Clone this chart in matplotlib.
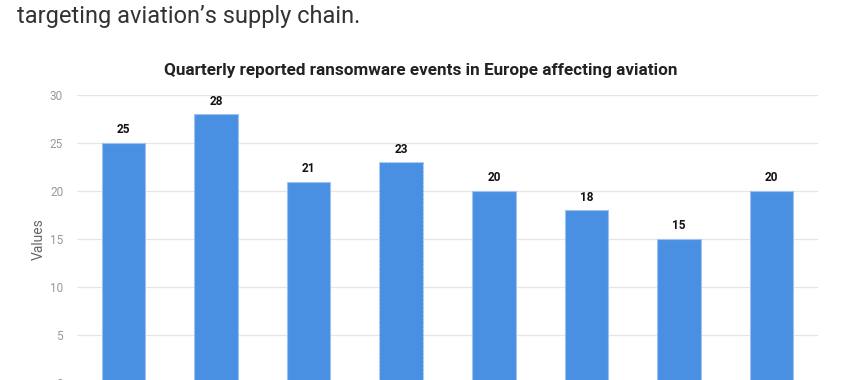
import matplotlib.pyplot as plt

# quarter labels are cut off in the reference, kept only as names
quarters = ["Q1", "Q2", "Q3", "Q4", "Q5", "Q6", "Q7", "Q8"]
events = [25, 28, 21, 23, 20, 18, 15, 20]
yticks = [0, 5, 10, 15, 20, 25, 30]

plt.rcParams['font.family'] = ['Roboto', 'DejaVu Sans']

fig = plt.figure(figsize=(8.48, 3.8), dpi=100)

# intro sentence above the chart (partly cropped in the screenshot)
fig.text(17 / 848, 1 - 17 / 380, "targeting aviation\u2019s supply chain.",
         fontsize=17, color="#333333", va="center", ha="left")

ax = fig.add_axes([77 / 848, -2.7 / 380, 741 / 848, 287.4 / 380])

x = range(len(quarters))
bars = ax.bar(x, events, width=0.47, color="#4a90e2",
              edgecolor="#9fc3ee", linewidth=0.8, zorder=3)
# hovered bar shows a dashed outline
bars[3].set_linestyle((0, (2, 1.5)))
bars[3].set_edgecolor("#b9d3f3")

for xi, v in zip(x, events):
    ax.text(xi, v + 0.7, str(v), ha="center", va="bottom",
            fontsize=8.5, fontweight="bold", color="#111111")

ax.set_xlim(-0.5, len(quarters) - 0.5)
ax.set_ylim(0, 30)
ax.set_yticks(yticks)
ax.set_xticks([])
ax.grid(axis="y", color="#e6e6e6", linewidth=0.9, zorder=0)
ax.tick_params(axis="y", length=0, pad=10, labelsize=8.5, labelcolor="#999999")
for s in ax.spines.values():
    s.set_visible(False)

ax.set_ylabel("Values", fontsize=10, color="#666666", labelpad=3)

fig.text(421 / 848, 1 - 71 / 380,
         "Quarterly reported ransomware events in Europe affecting aviation",
         ha="center", va="center", fontsize=12.3, fontweight="bold", color="#222222")

fig.savefig("out.png", dpi=100)
